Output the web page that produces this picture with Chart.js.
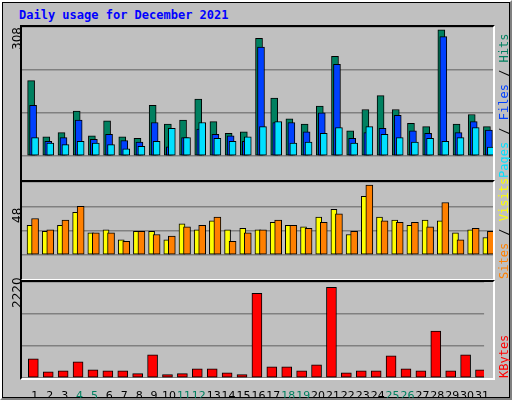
<!DOCTYPE html>
<html><head><meta charset="utf-8">
<script src="https://cdn.jsdelivr.net/npm/chart.js@4"></script>
<style>
html,body{margin:0;padding:0;}
#wrap{position:relative;width:508px;height:396px;background:#c0c0c0;border-left:2px solid #fff;border-top:2px solid #fff;border-right:2px solid #808080;border-bottom:2px solid #808080;box-shadow:inset 0 0 0 1px #000;overflow:hidden;}
canvas{position:absolute;}
.frame{position:absolute;border-top:2px solid #000;border-left:2px solid #000;border-right:2px solid #fff;border-bottom:2px solid #fff;box-sizing:border-box;pointer-events:none;}
.t{position:absolute;font-family:"DejaVu Sans Mono",monospace;}
.rot{position:absolute;transform-origin:left top;transform:rotate(-90deg);white-space:nowrap;line-height:12px;}
.side{font-family:"DejaVu Sans Mono",monospace;font-size:12px;}
</style></head><body>
<div id="wrap">
<div class="t" style="left:17px;top:6px;font-size:12px;font-weight:bold;color:#0000ff;">Daily usage for December 2021</div>
<canvas id="c1" width="471" height="153" style="left:20px;top:25px;"></canvas>
<canvas id="c2" width="471" height="97" style="left:20px;top:180px;"></canvas>
<canvas id="c3" width="471" height="120" style="left:20px;top:280px;"></canvas>
<div class="frame" style="left:18px;top:23px;width:475px;height:157px;"></div>
<div class="frame" style="left:18px;top:178px;width:475px;height:101px;"></div>
<div class="frame" style="left:18px;top:278px;width:475px;height:100px;"></div>
<div class="rot" style="left:9px;top:48px;font-family:'DejaVu Sans',sans-serif;font-size:12px;">308</div>
<div class="rot" style="left:9px;top:221px;font-family:'DejaVu Sans',sans-serif;font-size:12px;">48</div>
<div class="rot" style="left:9px;top:306px;font-family:'DejaVu Sans',sans-serif;font-size:12px;">2220</div>
<div class="rot side" style="left:496px;top:176px;"><span style="color:#00e0ff">Pages</span><span> / </span><span style="color:#0040ff">Files</span><span> / </span><span style="color:#008060">Hits</span></div>
<div class="rot side" style="left:496px;top:277px;"><span style="color:#ff8000">Sites</span><span> / </span><span style="color:#ffff00">Visits</span></div>
<div class="rot side" style="left:496px;top:376px;color:#ff0000;">KBytes</div>
</div>
<script>
const days=[1,2,3,4,5,6,7,8,9,10,11,12,13,14,15,16,17,18,19,20,21,22,23,24,25,26,27,28,29,30,31];
const weekend=[4,5,11,12,18,19,25,26];
const hits=[180,46,56,107,48,84,46,42,121,76,86,136,82,54,58,281,138,89,76,119,238,60,111,144,111,78,70,301,76,99,70];
const files=[121,35,44,86,40,52,37,33,80,22,44,64,52,48,35,260,80,80,58,103,219,42,56,66,97,60,54,285,56,82,62];
const pages=[44,31,27,35,31,27,17,23,35,66,44,80,42,35,46,70,82,31,33,54,68,31,70,52,44,33,42,35,44,68,21];
const visits=[19.5,15.5,19.5,28,14.5,16.5,10,15.5,15.5,10,20.5,16.5,22.5,16.5,17.5,16.5,21.5,19.5,18.5,25,30,13.5,38.5,25,23,19.5,23,22.5,14.5,16.5,11.5];
const sites=[24,16.5,23,32,14.5,14.5,9,15.5,13.5,12.5,18.5,19.5,25,9,14.5,16.5,23,19.5,17.5,21.5,27,15.5,46,22.5,21.5,21.5,18.5,34.5,10,17.5,15.5];
const kbytes=[444,145,168,375,191,168,168,100,536,77,100,214,214,122,77,1960,260,260,168,306,2098,122,168,168,513,214,168,1087,168,536,191];
const maxTop=308, maxMid=48, maxBot=2220;

function ds(vals,off,color,w,order){
  return {data:vals.map((v,i)=>({x:days[i]+off,y:v})),backgroundColor:color,borderColor:'#000',borderWidth:1,borderSkipped:false,barThickness:w,grouped:false,order:order};
}
function opts(max,showX){
  return {responsive:false,animation:false,devicePixelRatio:1,
    layout:{padding:0},
    plugins:{legend:{display:false},tooltip:{enabled:false}},
    scales:{
      x:{type:'linear',min:0.14,max:31.14,display:showX,offset:false,
        grid:{display:false},border:{display:false},
        afterBuildTicks:s=>{s.ticks=days.map(d=>({value:d}));},
        afterFit:s=>{s.height=24;},
        ticks:{autoSkip:false,maxRotation:0,minRotation:0,padding:4,font:{family:'DejaVu Sans',size:11},
          color:c=>weekend.includes(c.tick.value)?'#008060':'#000',
          callback:v=>String(v)}},
      y:{min:0,max:max,display:true,afterFit:s=>{s.width=0;},
        afterBuildTicks:s=>{s.ticks=[0,max/3,2*max/3,max].map(v=>({value:v}));},
        ticks:{display:false},border:{display:false},
        grid:{color:'#808080',lineWidth:1.5,drawTicks:false}}
    }};
}
new Chart(document.getElementById('c1'),{type:'bar',data:{datasets:[
  ds(hits,-0.26,'#008060',7,3),ds(files,-0.13,'#0040ff',7,2),ds(pages,0,'#00e0ff',7,1)]},options:opts(maxTop,false)});
new Chart(document.getElementById('c2'),{type:'bar',data:{datasets:[
  ds(visits,-0.33,'#ffff00',6,2),ds(sites,0,'#ff8000',7,1)]},options:opts(maxMid,false)});
new Chart(document.getElementById('c3'),{type:'bar',data:{datasets:[
  ds(kbytes,-0.1,'#ff0000',10,1)]},options:opts(maxBot,true)});
</script>
</body></html>
